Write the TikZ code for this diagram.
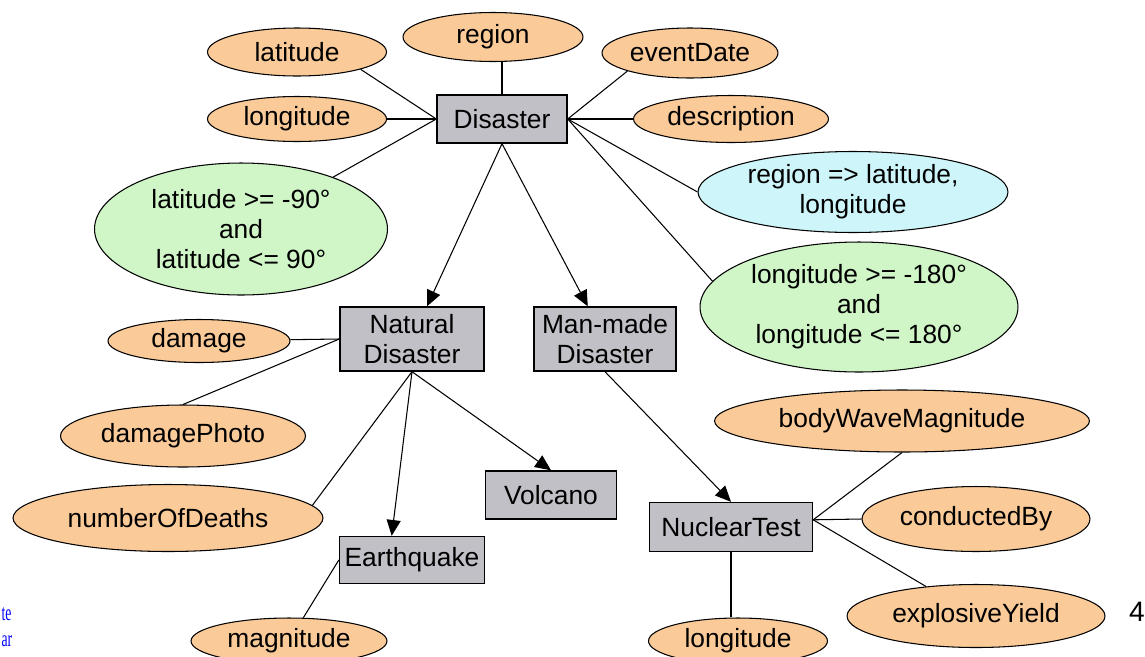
\documentclass[tikz,border=0pt]{standalone}
\usepackage{fontspec}
\setmainfont{Liberation Sans}
\newfontfamily\slidefont{Liberation Serif}
\usetikzlibrary{shapes,arrows.meta}
\definecolor{attr_orange}{RGB}{250,202,152}
\definecolor{cons_green}{RGB}{208,246,200}
\definecolor{infer_cyan}{RGB}{206,246,250}
\definecolor{cls_grey}{RGB}{193,192,198}
\tikzstyle{attr}=[ellipse,fill=attr_orange,draw=black,
  line width=0.6pt,inner sep=0pt,font=\fontsize{15}{17}\selectfont]
\tikzstyle{cons}=[ellipse,fill=cons_green,draw=black,align=center,
  line width=0.6pt,inner sep=0pt,font=\fontsize{15}{17}\selectfont]
\tikzstyle{infer}=[ellipse,fill=infer_cyan,draw=black,align=center,
  line width=0.6pt,inner sep=0pt,font=\fontsize{15}{17}\selectfont]
\tikzstyle{cls}=[rectangle,fill=cls_grey,draw=black,align=center,
  line width=0.8pt,inner sep=2pt,font=\fontsize{15}{17}\selectfont]
\tikzstyle{isa}=[-{Triangle[length=9pt,width=8pt]}]
\tikzstyle{slide}=[text=blue,font=\slidefont\fontsize{13}{14}\selectfont,
  anchor=base west,inner sep=0pt]

\begin{document}
\begin{tikzpicture}[x=0.02cm,y=-0.02cm,line width=0.6pt]
    \useasboundingbox (0,0) rectangle (1145,656);
    % classes
    \node [style=cls,minimum width=2.6cm,minimum height=0.96cm] (dis) at (502,119) {Disaster};
    \node [style=cls,minimum width=2.88cm,minimum height=1.28cm] (nd) at (412,339) {Natural\\Disaster};
    \node [style=cls,minimum width=2.84cm,minimum height=1.28cm] (mm) at (605,339) {Man-made\\Disaster};
    \node [style=cls,minimum width=2.62cm,minimum height=0.96cm] (vol) at (551,495) {Volcano};
    \node [style=cls,minimum width=2.9cm,minimum height=0.94cm] (eq) at (412,560) {Earthquake};
    \node [style=cls,minimum width=3.26cm,minimum height=0.98cm] (nt) at (731,527) {NuclearTest};
    % attributes
    \node [style=attr,minimum width=3.58cm,minimum height=0.96cm] (lat) at (297,52) {latitude};
    \node [style=attr,minimum width=3.6cm,minimum height=0.98cm] (reg) at (493,37) {region};
    \node [style=attr,minimum width=3.52cm,minimum height=1cm] (evd) at (690,53) {eventDate};
    \node [style=attr,minimum width=3.58cm,minimum height=0.9cm] (lon) at (297,119) {longitude};
    \node [style=attr,minimum width=3.9cm,minimum height=0.94cm] (desc) at (731,119) {description};
    \node [style=attr,minimum width=3.64cm,minimum height=0.86cm] (dmg) at (199,341) {damage};
    \node [style=attr,minimum width=4.9cm,minimum height=1.24cm] (dmp) at (183,436) {damagePhoto};
    \node [style=attr,minimum width=6.2cm,minimum height=1.34cm] (nod) at (168,518) {numberOfDeaths};
    \node [style=attr,minimum width=3.92cm,minimum height=0.92cm] (mag) at (289,641) {magnitude};
    \node [style=attr,minimum width=7.5cm,minimum height=1.24cm] (bwm) at (902,421) {bodyWaveMagnitude};
    \node [style=attr,minimum width=4.56cm,minimum height=1.3cm] (cb) at (976,519) {conductedBy};
    \node [style=attr,minimum width=5.16cm,minimum height=1.26cm] (ey) at (976,616) {explosiveYield};
    \node [style=attr,minimum width=3.58cm,minimum height=0.92cm] (lonb) at (738,641) {longitude};
    % constraints
    \node [style=cons,minimum width=5.86cm,minimum height=2.64cm] (glat) at (241,229) {latitude >= -90°\\and\\latitude <= 90°};
    \node [style=infer,minimum width=6.2cm,minimum height=1.62cm] (inf) at (853,192) {region => latitude,\\longitude};
    \node [style=cons,minimum width=6.36cm,minimum height=2.6cm] (glon) at (859,307) {longitude >= -180°\\and\\longitude <= 180°};
    % slide leftovers
    \node [font=\fontsize{16}{18}\selectfont] (pg) at (1137,612) {4};
    \node [style=slide] (sl1) at (1,620) {\scalebox{0.6}[1]{te}};
    \node [style=slide] (sl2) at (1,646) {\scalebox{0.6}[1]{ar}};
    % connectors
    \draw (lat.south east) to (dis.west);
    \draw (lon) to (dis.west);
    \draw (glat) to (dis.west);
    \draw (dis.north) to (dis.north |- reg.south);
    \draw (evd.south west) to (dis.east);
    \draw (desc) to (dis.east);
    \draw (inf.west) to (dis.east);
    \draw (glon.170) to (dis.east);
    \draw [style=isa] (dis.south) to (nd);
    \draw [style=isa] (dis.south) to (mm);
    \draw (dmg) to (nd.west);
    \draw (dmp.north) to (nd.west);
    \draw (nod.5) to (nd.south);
    \draw [style=isa] (nd.south) to (eq.130);
    \draw [style=isa] (nd.south) to (vol.north);
    \draw (mag) to (eq.west);
    \draw [style=isa] (mm.south) to (nt.north);
    \draw (bwm.south) to (nt.5);
    \draw (cb.west) to (nt.5);
    \draw (ey) to (nt.5);
    \draw (nt.south) to (nt.south |- lonb.north);
\end{tikzpicture}
\end{document}
